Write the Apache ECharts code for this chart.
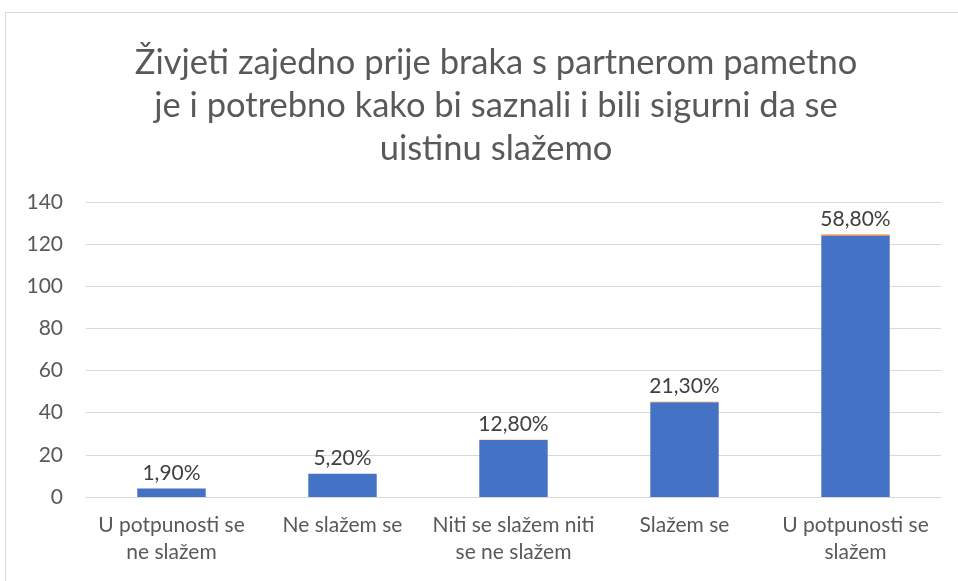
<!DOCTYPE html>
<html><head><meta charset="utf-8">
<script src="https://cdn.jsdelivr.net/npm/echarts@6/dist/echarts.min.js"></script>
<style>html,body{margin:0;padding:0;background:#fff}#c{width:958px;height:581px}</style>
</head><body><div id="c"></div>
<script>
const titleText = "Živjeti zajedno prije braka s partnerom pametno\nje i potrebno kako bi saznali i bili sigurni da se\nuistinu slažemo";
const categories = ["U potpunosti se\nne slažem", "Ne slažem se", "Niti se slažem niti\nse ne slažem", "Slažem se", "U potpunosti se\nslažem"];
const counts = [4, 11, 27, 45, 124];
const percents = [1.9, 5.2, 12.8, 21.3, 58.8];
const yTicks = {min: 0, max: 140, interval: 20};

const FONT = "Lato";
const chart = echarts.init(document.getElementById('c'), null, {renderer: 'canvas'});
chart.setOption({
  animation: false,
  backgroundColor: '#ffffff',
  graphic: [{type: 'rect', shape: {x: 5.5, y: 12.5, width: 1000, height: 700}, style: {fill: 'none', stroke: '#d9d9d9', lineWidth: 1}, silent: true}],
  title: {
    text: titleText, left: 491, top: 36, textAlign: 'center',
    textStyle: {fontFamily: FONT, fontSize: 34.5, fontWeight: 'normal', color: '#595959', lineHeight: 43}
  },
  grid: {left: 86, right: 17, top: 202, bottom: 84},
  xAxis: {
    type: 'category', data: categories,
    axisLine: {lineStyle: {color: '#d9d9d9', width: 1}},
    axisTick: {show: false},
    axisLabel: {fontFamily: FONT, fontSize: 21, color: '#595959', lineHeight: 27, margin: 15, interval: 0}
  },
  yAxis: {
    type: 'value', min: yTicks.min, max: yTicks.max, interval: yTicks.interval,
    axisLine: {show: false}, axisTick: {show: false},
    splitLine: {lineStyle: {color: '#d9d9d9', width: 1}},
    axisLabel: {fontFamily: FONT, fontSize: 21, color: '#595959', margin: 23}
  },
  series: [
    {name: 'Broj', type: 'bar', stack: 's', data: counts, barWidth: '40%', itemStyle: {color: '#4472C4'}},
    {name: 'Postotak', type: 'bar', stack: 's', data: percents.map(p => p / 100), barWidth: '40%',
      itemStyle: {color: '#ED7D31'},
      label: {show: true, position: 'top', distance: 5, fontFamily: FONT, fontSize: 21, color: '#404040',
        formatter: p => percents[p.dataIndex].toFixed(2).replace('.', ',') + '%'}}
  ]
});
</script></body></html>
